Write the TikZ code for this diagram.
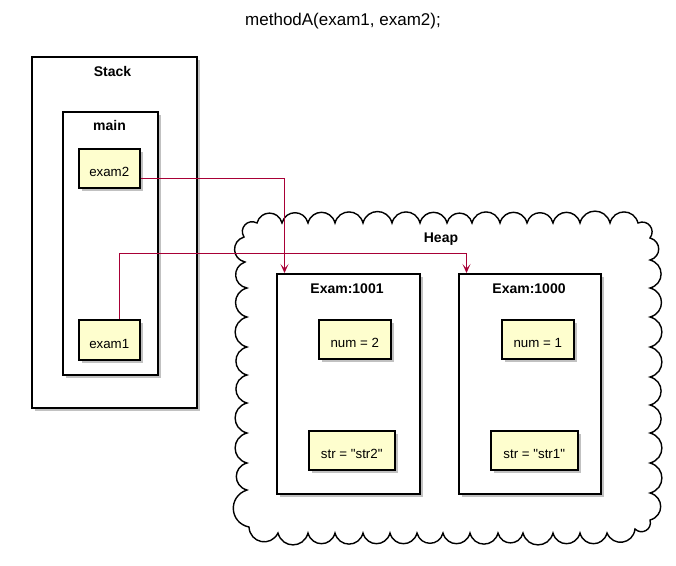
\documentclass[tikz,border=0pt]{standalone}
\usepackage{fontspec}
\setmainfont{Liberation Sans}[Ligatures=TeXOff]
\usetikzlibrary{shadows,arrows.meta,calc}
\definecolor{noteyellow}{HTML}{FEFECE}
\definecolor{plantred}{HTML}{A80036}
\tikzset{
  container/.style={draw=black, line width=1.6pt, fill=white, anchor=north west, inner sep=0pt,
    drop shadow={shadow xshift=3.5pt, shadow yshift=-3.5pt, fill=black!40, opacity=0.6}},
  notebox/.style={draw=black, line width=1.5pt, fill=noteyellow, anchor=north west, inner sep=0pt,
    font=\fontsize{13.3}{15}\selectfont, text height=17pt, text depth=0pt,
    drop shadow={shadow xshift=3.5pt, shadow yshift=-3.5pt, fill=black!40, opacity=0.6}},
  grouplbl/.style={font=\bfseries\fontsize{14}{16}\selectfont, anchor=base, inner sep=0pt},
  ref/.style={draw=plantred, line width=1pt, -{Stealth[length=9pt,width=8pt,inset=4.5pt]}},
  bump/.style={bend left=75, looseness=1.4},
  cloudline/.style={draw=black, line width=1.4pt, fill=white}
}
\begin{document}
\begin{tikzpicture}[x=1pt,y=-1pt]
\useasboundingbox (0,0) rectangle (676,565);
% title
\node[font=\fontsize{17}{20}\selectfont, anchor=base, inner sep=0pt] (title) at (343,25) {methodA(exam1, exam2);};

% Stack
\node[container, minimum width=165pt, minimum height=351pt] (stack) at (31,56) {};
\node[grouplbl] (stacklbl) at (112.5,76) {Stack};
\node[container, minimum width=95pt, minimum height=263pt] (main) at (62,111) {};
\node[grouplbl] (mainlbl) at (109.5,130) {main};
\node[notebox, minimum width=61pt, minimum height=39pt] (exam2) at (78,148) {exam2};
\node[notebox, minimum width=61pt, minimum height=40pt] (exam1) at (78,319) {exam1};

% Heap cloud
\path[cloudline] (245,262)
  to[bump] (244,237) to[bump] (257,223)
  to[bump] (282,223) to[bump] (308,223) to[bump] (335,223) to[bump] (363,223)
  to[bump] (392,223) to[bump] (420,223) to[bump] (447,223) to[bump] (472,223)
  to[bump] (500,223) to[bump] (527,223) to[bump] (553,223) to[bump] (580,223)
  to[bump] (610,223) to[bump] (638,223)
  to[bump] (650,238)
  to[bump] (650,260) to[bump] (650,288) to[bump] (650,317) to[bump] (650,347)
  to[bump] (650,377) to[bump] (650,405) to[bump] (650,433) to[bump] (650,463)
  to[bump] (650,493) to[bump] (650,520)
  to[bump] (635,529)
  to[bump] (607,533) to[bump] (580,533) to[bump] (553,533) to[bump] (523,533)
  to[bump] (498,533) to[bump] (470,533) to[bump] (443,533) to[bump] (417,533)
  to[bump] (390,533) to[bump] (363,533) to[bump] (335,533) to[bump] (308,533)
  to[bump] (278,533) to[bump] (249,527)
  to[bump] (247,490) to[bump] (247,463) to[bump] (247,433) to[bump] (247,403)
  to[bump] (247,375) to[bump] (247,347) to[bump] (247,317) to[bump] (247,288)
  to[bump] (245,262) -- cycle;
\node[grouplbl] (heaplbl) at (441,242) {Heap};

% Exam:1001
\node[container, minimum width=143pt, minimum height=220pt] (e1001) at (276,273) {};
\node[grouplbl] (e1001lbl) at (347,293) {Exam:1001};
\node[notebox, minimum width=72pt, minimum height=39pt] (num2) at (318,319) {num = 2};
\node[notebox, minimum width=86pt, minimum height=39pt] (str2) at (308,430) {str = "str2"};

% Exam:1000
\node[container, minimum width=142pt, minimum height=220pt] (e1000) at (458,273) {};
\node[grouplbl] (e1000lbl) at (529,293) {Exam:1000};
\node[notebox, minimum width=72pt, minimum height=39pt] (num1) at (501,319) {num = 1};
\node[notebox, minimum width=87pt, minimum height=39pt] (str1) at (490,430) {str = "str1"};

% references
\coordinate (j1) at (119,253);
\draw[ref] ([yshift=-10.5pt]exam2.east) -| ([xshift=8.5pt]e1001.north west);
\draw[ref] (exam1.north -| j1) -- (j1) -| ([xshift=8.5pt]e1000.north west);
\end{tikzpicture}
\end{document}
